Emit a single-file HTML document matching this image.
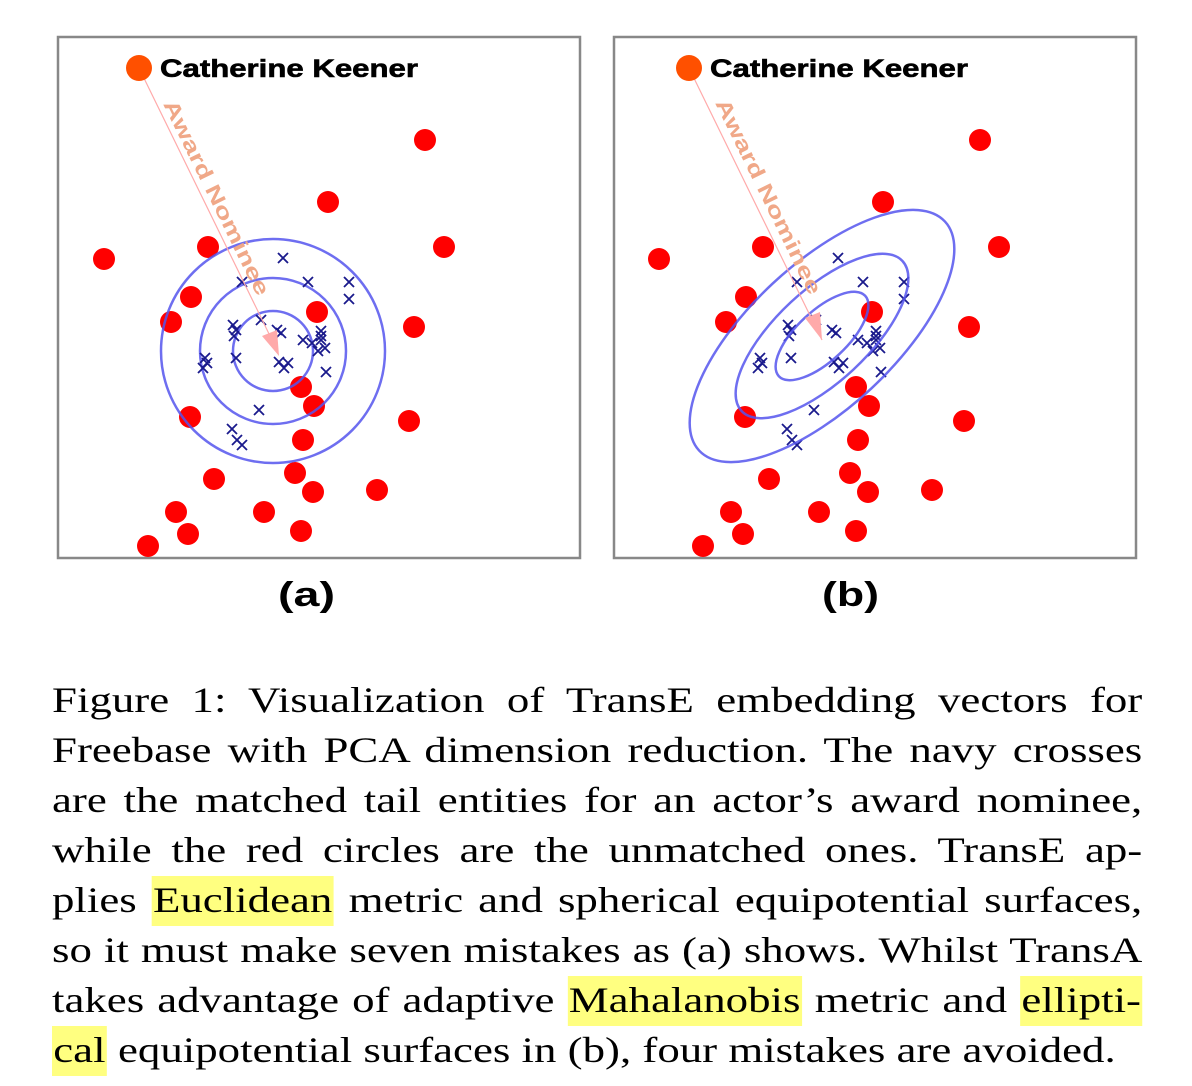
<!DOCTYPE html>
<html><head><meta charset="utf-8"><style>
html,body{margin:0;padding:0;background:#fff;width:1192px;height:1086px;overflow:hidden;position:relative}
svg{position:absolute;left:0;top:0}
#cap{position:absolute;left:52px;top:675px;width:875px;transform:scaleX(1.246);transform-origin:0 0;font-family:"Liberation Serif",serif;font-size:36px;line-height:50px;color:#000}
#cap div{text-align:justify;text-align-last:justify;white-space:nowrap}
#cap div.last{text-align-last:left}
.h{background:#ffff80;padding:4px 1px 6px}
</style></head><body>
<svg width="1192" height="660" viewBox="0 0 1192 660">
<defs>
<g id="dots" fill="#ff0000">
<circle cx="425" cy="140" r="11"/><circle cx="328" cy="202" r="11"/><circle cx="104" cy="259" r="11"/><circle cx="208" cy="247" r="11"/><circle cx="444" cy="247" r="11"/><circle cx="191" cy="297" r="11"/><circle cx="171" cy="322" r="11"/><circle cx="317" cy="312" r="11"/><circle cx="414" cy="327" r="11"/><circle cx="301" cy="387" r="11"/><circle cx="314" cy="406" r="11"/><circle cx="190" cy="417" r="11"/><circle cx="409" cy="421" r="11"/><circle cx="303" cy="440" r="11"/><circle cx="214" cy="479" r="11"/><circle cx="295" cy="473" r="11"/><circle cx="313" cy="492" r="11"/><circle cx="377" cy="490" r="11"/><circle cx="176" cy="512" r="11"/><circle cx="264" cy="512" r="11"/><circle cx="188" cy="534" r="11"/><circle cx="301" cy="531" r="11"/><circle cx="148" cy="546" r="11"/>
</g>
<path id="x" d="M-5,-5L5,5M-5,5L5,-5" stroke="#1a1a8c" stroke-width="1.8"/>
<g id="crosses">
<use href="#x" x="283" y="258"/><use href="#x" x="242" y="282"/><use href="#x" x="308" y="282"/><use href="#x" x="349" y="282"/><use href="#x" x="349" y="299"/><use href="#x" x="261" y="320"/><use href="#x" x="233" y="325"/><use href="#x" x="234" y="336"/><use href="#x" x="277" y="330"/><use href="#x" x="281" y="333"/><use href="#x" x="303" y="340"/><use href="#x" x="321" y="331"/><use href="#x" x="321" y="340"/><use href="#x" x="318" y="351"/><use href="#x" x="236" y="358"/><use href="#x" x="205" y="358"/><use href="#x" x="203" y="368"/><use href="#x" x="279" y="362"/><use href="#x" x="288" y="363"/><use href="#x" x="326" y="372"/><use href="#x" x="259" y="410"/><use href="#x" x="232" y="429"/><use href="#x" x="242" y="445"/><use href="#x" x="312" y="343"/><use href="#x" x="325" y="348"/><use href="#x" x="236" y="330"/><use href="#x" x="207" y="363"/><use href="#x" x="284" y="368"/><use href="#x" x="237" y="440"/><use href="#x" x="321" y="336"/>
</g>
</defs>
<rect x="58" y="37" width="522" height="521" fill="#fff" stroke="#888" stroke-width="2.5"/>
<use href="#dots"/>
<g fill="none" stroke="#5555ee" stroke-width="2.5" opacity="0.85">
<circle cx="273" cy="351" r="112"/><circle cx="273" cy="351" r="73"/><circle cx="273" cy="351" r="40"/>
</g>
<use href="#crosses"/>
<line x1="139" y1="68" x2="272" y2="340" stroke="#ffaaaa" stroke-width="1.2"/>
<polygon points="262,336 277,330 279,356" fill="#ffaaaa"/>
<circle cx="139" cy="68" r="13" fill="#ff5000"/>
<text x="160" y="77" font-family="Liberation Sans,sans-serif" font-weight="bold" font-size="25" fill="#000" textLength="258" lengthAdjust="spacingAndGlyphs" stroke="#000" stroke-width="0.6">Catherine Keener</text>
<text transform="translate(163,104) rotate(63.9)" font-family="Liberation Sans,sans-serif" font-weight="bold" font-size="21" fill="#f0a888" textLength="215" lengthAdjust="spacingAndGlyphs">Award  Nominee</text>
<rect x="614" y="37" width="522" height="521" fill="#fff" stroke="#888" stroke-width="2.5"/>
<g transform="translate(555,0)"><use href="#dots"/><use href="#crosses"/></g>
<g fill="none" stroke="#5555ee" stroke-width="2.5" opacity="0.85" transform="translate(822,336) rotate(-43)">
<ellipse rx="168" ry="72"/><ellipse rx="110" ry="46"/><ellipse rx="59" ry="25"/>
</g>
<line x1="689" y1="68" x2="822" y2="340" stroke="#ffaaaa" stroke-width="1.2"/>
<polygon points="805,318 820,312 822,340" fill="#ffaaaa"/>
<circle cx="689" cy="68" r="13" fill="#ff5000"/>
<text x="710" y="77" font-family="Liberation Sans,sans-serif" font-weight="bold" font-size="25" fill="#000" textLength="258" lengthAdjust="spacingAndGlyphs" stroke="#000" stroke-width="0.6">Catherine Keener</text>
<text transform="translate(715,103) rotate(63.9)" font-family="Liberation Sans,sans-serif" font-weight="bold" font-size="21" fill="#f0a888" textLength="215" lengthAdjust="spacingAndGlyphs">Award  Nominee</text>
<text x="278" y="606" font-family="Liberation Sans,sans-serif" font-weight="bold" font-size="34" textLength="57" lengthAdjust="spacingAndGlyphs">(a)</text>
<text x="822" y="606" font-family="Liberation Sans,sans-serif" font-weight="bold" font-size="34" textLength="57" lengthAdjust="spacingAndGlyphs">(b)</text>
</svg>
<div id="cap">
<div>Figure 1: Visualization of TransE embedding vectors for</div>
<div>Freebase with PCA dimension reduction. The navy crosses</div>
<div>are the matched tail entities for an actor’s award nominee,</div>
<div>while the red circles are the unmatched ones. TransE ap-</div>
<div>plies <span class="h">Euclidean</span> metric and spherical equipotential surfaces,</div>
<div>so it must make seven mistakes as (a) shows. Whilst TransA</div>
<div>takes advantage of adaptive <span class="h">Mahalanobis</span> metric and <span class="h">ellipti-</span></div>
<div class="last"><span class="h">cal</span> equipotential surfaces in (b), four mistakes are avoided.</div>
</div>
</body></html>
